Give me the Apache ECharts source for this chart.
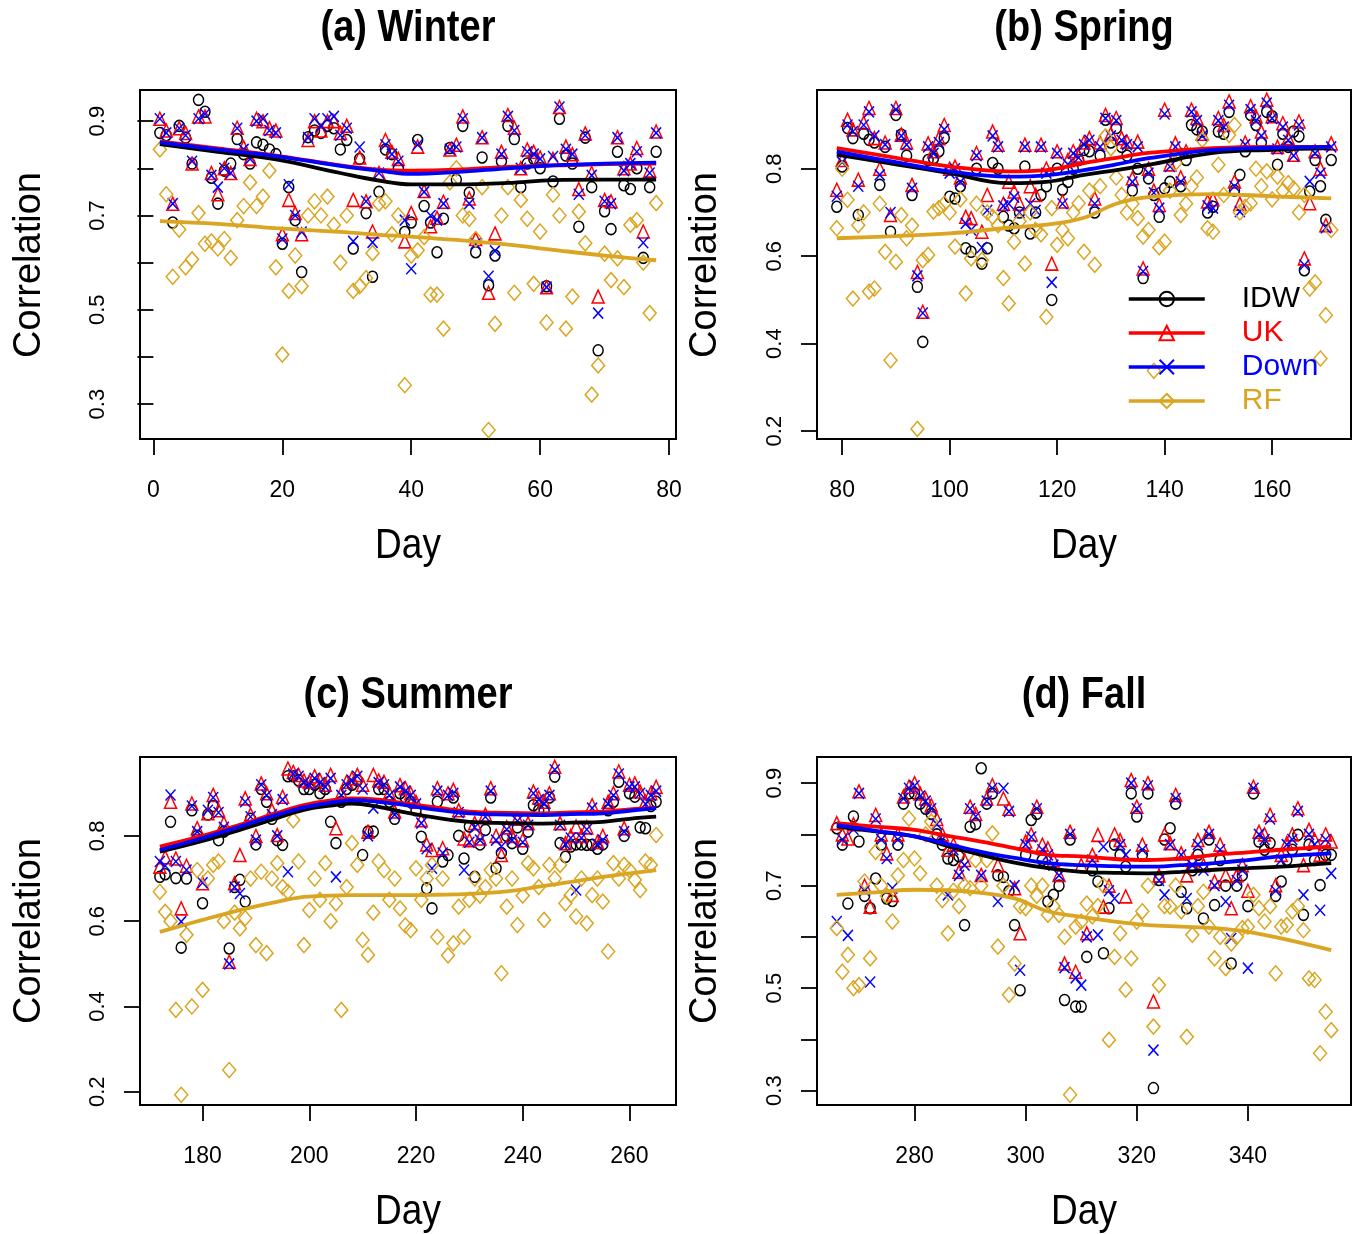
<!DOCTYPE html>
<html><head><meta charset="utf-8">
<script src="https://cdn.jsdelivr.net/npm/echarts@6/dist/echarts.min.js"></script>
<style>html,body{margin:0;padding:0;background:#fff}#c{width:1360px;height:1234px}</style>
</head><body><div id="c"></div>
<script>
// ---------------- DATA ----------------
const methods = ['IDW', 'UK', 'Down', 'RF'];
const panelTitles = ['(a) Winter', '(b) Spring', '(c) Summer', '(d) Fall'];
const startDays = [1, 79, 172, 266];
const xTickValues = [[0, 20, 40, 60, 80], [80, 100, 120, 140, 160], [180, 200, 220, 240, 260], [280, 300, 320, 340]];
const yTickValues = [[0.3, 0.4, 0.5, 0.6, 0.7, 0.8, 0.9], [0.2, 0.4, 0.6, 0.8], [0.2, 0.4, 0.6, 0.8], [0.3, 0.4, 0.5, 0.6, 0.7, 0.8, 0.9]];
const yLabelValues = [[0.3, 0.5, 0.7, 0.9], [0.2, 0.4, 0.6, 0.8], [0.2, 0.4, 0.6, 0.8], [0.3, 0.5, 0.7, 0.9]];

// Winter, days 1..78
const winterUK   = [.905,.88,.725,.885,.875,.81,.91,.91,.79,.745,.80,.79,.886,.845,.82,.905,.90,.885,.88,.66,.733,.705,.66,.86,.90,.88,.90,.90,.875,.89,.733,.823,.73,.666,.79,.86,.835,.82,.645,.705,.846,.752,.677,.695,.729,.84,.85,.91,.736,.65,.866,.536,.662,.835,.913,.886,.80,.84,.835,.823,.548,.82,.93,.846,.83,.756,.874,.79,.528,.733,.73,.866,.80,.81,.843,.666,.795,.878];
const winterDown = [.905,.875,.725,.885,.87,.815,.905,.915,.785,.76,.80,.79,.885,.84,.82,.90,.905,.88,.875,.65,.765,.70,.665,.865,.905,.89,.905,.91,.87,.885,.645,.845,.73,.643,.79,.85,.83,.815,.69,.587,.85,.75,.70,.69,.725,.84,.845,.905,.725,.64,.865,.571,.625,.83,.91,.88,.80,.835,.83,.82,.548,.825,.93,.84,.83,.745,.87,.785,.493,.73,.725,.865,.795,.81,.835,.642,.79,.875];
const winterIDW  = [.875,.87,.685,.89,.865,.81,.945,.92,.78,.725,.795,.81,.862,.83,.81,.855,.85,.84,.83,.64,.76,.69,.58,.866,.88,.875,.89,.885,.84,.86,.63,.82,.705,.57,.75,.84,.83,.80,.665,.685,.86,.72,.685,.622,.693,.843,.776,.89,.748,.622,.823,.552,.615,.815,.89,.862,.76,.81,.82,.80,.55,.772,.905,.827,.81,.676,.865,.76,.414,.709,.671,.835,.764,.756,.80,.61,.76,.835];
const winterRF   = [.84,.745,.57,.67,.59,.607,.705,.64,.645,.63,.65,.61,.69,.72,.77,.72,.74,.795,.59,.405,.54,.615,.55,.70,.73,.70,.74,.68,.60,.70,.54,.55,.567,.62,.725,.73,.66,.70,.34,.615,.626,.654,.532,.532,.46,.77,.80,.70,.693,.65,.76,.245,.47,.70,.76,.536,.733,.693,.555,.666,.473,.744,.70,.46,.528,.708,.641,.32,.382,.619,.563,.609,.548,.68,.69,.60,.493,.726];

// Spring, days 79..171
const springUK   = [.752,.82,.912,.89,.775,.905,.939,.87,.80,.86,.694,.939,.878,.86,.763,.564,.473,.858,.84,.87,.90,.80,.805,.78,.69,.687,.836,.656,.74,.885,.855,.72,.77,.748,.72,.855,.76,.74,.855,.80,.583,.84,.725,.82,.84,.83,.86,.87,.732,.86,.923,.88,.916,.87,.862,.778,.862,.572,.80,.75,.717,.935,.81,.858,.78,.84,.935,.916,.88,.725,.73,.916,.90,.954,.771,.72,.86,.943,.92,.885,.958,.92,.85,.904,.87,.832,.908,.595,.721,.84,.80,.671,.858];
const springDown = [.737,.815,.90,.885,.76,.90,.93,.875,.786,.855,.70,.935,.875,.855,.755,.555,.47,.85,.835,.86,.89,.79,.80,.77,.675,.66,.83,.62,.705,.875,.85,.715,.72,.735,.70,.85,.72,.705,.85,.79,.54,.835,.72,.81,.835,.825,.855,.865,.72,.85,.915,.875,.91,.865,.855,.77,.85,.565,.79,.745,.71,.925,.805,.85,.77,.835,.93,.91,.875,.715,.71,.91,.895,.945,.76,.702,.855,.935,.91,.875,.95,.915,.845,.895,.865,.83,.90,.58,.771,.835,.79,.665,.85];
const springIDW  = [.713,.805,.893,.87,.694,.88,.866,.86,.763,.85,.656,.923,.878,.83,.74,.53,.404,.82,.824,.84,.87,.736,.732,.76,.618,.61,.80,.583,.618,.813,.80,.69,.67,.664,.70,.805,.652,.70,.74,.76,.50,.80,.752,.77,.80,.82,.843,.84,.70,.83,.912,.86,.893,.85,.83,.75,.80,.55,.778,.74,.69,.755,.77,.83,.76,.82,.90,.89,.885,.70,.713,.885,.88,.93,.75,.786,.84,.923,.90,.86,.93,.92,.809,.88,.85,.885,.874,.568,.748,.82,.76,.683,.82];
const springRF   = [.664,.80,.729,.503,.671,.70,.519,.526,.72,.61,.362,.587,.694,.641,.67,.205,.591,.603,.702,.71,.72,.70,.622,.73,.515,.595,.72,.591,.70,.69,.671,.55,.492,.633,.68,.583,.70,.66,.65,.461,.71,.626,.66,.641,.70,.721,.61,.75,.58,.76,.874,.847,.78,.74,.70,.72,.687,.645,.66,.338,.62,.633,.75,.813,.694,.72,.76,.78,.866,.664,.656,.809,.74,.877,.90,.70,.713,.721,.80,.76,.794,.73,.782,.75,.767,.755,.70,.74,.526,.54,.366,.465,.66];

// Summer, days 172..265
const summerUK   = [.728,.75,.88,.747,.63,.73,.876,.818,.689,.853,.896,.86,.83,.505,.689,.755,.888,.85,.80,.923,.90,.86,.802,.892,.958,.95,.943,.93,.927,.94,.931,.92,.943,.818,.90,.927,.935,.943,.92,.81,.943,.93,.927,.90,.857,.919,.912,.90,.88,.837,.78,.767,.912,.771,.90,.908,.86,.794,.79,.83,.794,.85,.912,.80,.755,.82,.80,.84,.79,.83,.904,.89,.88,.90,.962,.83,.783,.80,.822,.80,.82,.872,.786,.80,.88,.90,.951,.818,.92,.923,.904,.88,.90,.915];
const summerDown = [.74,.73,.896,.74,.599,.72,.87,.81,.69,.86,.89,.855,.82,.50,.68,.665,.88,.845,.79,.92,.895,.85,.80,.885,.716,.945,.94,.925,.92,.935,.925,.915,.935,.704,.895,.92,.93,.94,.91,.80,.865,.925,.92,.895,.85,.915,.905,.895,.875,.83,.77,.724,.905,.76,.895,.90,.855,.72,.785,.82,.79,.845,.905,.79,.775,.815,.79,.835,.785,.825,.90,.885,.875,.895,.955,.825,.78,.795,.673,.795,.815,.865,.78,.79,.875,.895,.945,.81,.915,.915,.90,.875,.895,.905];
const summerIDW  = [.704,.71,.833,.701,.538,.70,.86,.80,.642,.85,.87,.79,.81,.536,.68,.697,.646,.84,.78,.91,.88,.84,.79,.779,.94,.94,.93,.91,.91,.92,.90,.91,.833,.783,.88,.91,.92,.93,.755,.81,.81,.91,.91,.88,.84,.90,.89,.88,.86,.798,.677,.63,.88,.74,.755,.89,.80,.747,.822,.704,.78,.814,.89,.724,.76,.80,.783,.82,.77,.81,.872,.86,.86,.89,.939,.783,.751,.775,.78,.78,.779,.779,.77,.78,.86,.88,.927,.80,.90,.892,.82,.818,.87,.88];
const summerRF   = [.669,.622,.60,.392,.193,.568,.40,.72,.439,.70,.732,.74,.60,.251,.62,.583,.607,.70,.544,.716,.525,.70,.736,.68,.669,.837,.74,.544,.626,.70,.65,.736,.60,.642,.392,.68,.783,.732,.556,.521,.62,.74,.72,.65,.70,.63,.59,.579,.724,.65,.70,.732,.563,.70,.52,.548,.634,.563,.65,.70,.66,.68,.72,.70,.478,.634,.70,.591,.66,.736,.724,.68,.603,.732,.70,.732,.642,.661,.611,.70,.595,.661,.70,.646,.529,.736,.70,.732,.72,.697,.673,.74,.732,.802];

// Fall, days 266..355
const fallUK   = [.822,.80,.792,.82,.884,.70,.659,.838,.80,.763,.682,.80,.874,.893,.90,.88,.87,.857,.83,.80,.77,.78,.727,.75,.854,.84,.721,.87,.896,.74,.87,.85,.695,.607,.786,.80,.854,.78,.773,.75,.721,.548,.805,.532,.74,.607,.76,.799,.659,.70,.80,.789,.679,.906,.854,.78,.90,.474,.72,.80,.783,.877,.763,.72,.75,.789,.74,.805,.708,.78,.72,.656,.72,.74,.69,.893,.805,.80,.838,.701,.76,.783,.80,.851,.74,.809,.79,.76,.80,.786];
const fallDown = [.63,.79,.603,.81,.88,.69,.512,.83,.79,.753,.695,.79,.87,.89,.895,.875,.865,.85,.82,.79,.682,.77,.72,.74,.85,.835,.72,.865,.89,.669,.89,.845,.70,.535,.78,.795,.85,.77,.76,.74,.72,.54,.80,.52,.506,.60,.75,.604,.776,.69,.675,.78,.76,.90,.85,.77,.895,.379,.71,.682,.78,.87,.76,.675,.74,.78,.73,.80,.70,.77,.669,.597,.71,.73,.539,.89,.80,.79,.83,.69,.75,.78,.79,.845,.682,.80,.78,.652,.79,.724];
const fallIDW  = [.812,.78,.665,.835,.786,.68,.656,.714,.78,.675,.67,.78,.86,.88,.88,.86,.85,.84,.80,.78,.753,.75,.757,.623,.815,.82,.929,.86,.88,.72,.717,.689,.623,.496,.76,.828,.84,.75,.669,.682,.70,.477,.79,.464,.464,.561,.73,.708,.568,.656,.78,.76,.737,.88,.835,.76,.88,.305,.711,.79,.812,.86,.688,.656,.73,.76,.636,.79,.662,.75,.70,.548,.70,.72,.66,.88,.786,.77,.783,.68,.708,.75,.77,.799,.643,.78,.75,.701,.76,.76];
const fallRF   = [.617,.532,.565,.50,.506,.708,.558,.766,.70,.68,.63,.72,.75,.831,.753,.724,.80,.825,.70,.672,.607,.69,.66,.70,.695,.75,.70,.75,.802,.581,.70,.487,.548,.66,.656,.70,.68,.70,.643,.66,.643,.60,.292,.62,.63,.665,.64,.66,.70,.399,.561,.607,.497,.558,.63,.65,.70,.425,.506,.66,.659,.70,.65,.405,.604,.66,.688,.62,.558,.60,.539,.587,.60,.617,.62,.682,.656,.63,.66,.529,.62,.623,.65,.66,.613,.519,.516,.373,.454,.418];

// Smooth (lowess) curves
const winterLineDays = [1, 10, 19, 29, 35, 40, 47, 55, 62, 70, 78];
const winterLineUK   = [.857,.842,.827,.806,.797,.795,.797,.803,.806,.809,.81];
const winterLineDown = [.855,.84,.826,.805,.795,.788,.792,.80,.806,.81,.812];
const winterLineIDW  = [.851,.835,.819,.79,.774,.766,.766,.769,.775,.776,.776];
const winterLineRF   = [.688,.682,.673,.665,.659,.655,.648,.638,.627,.615,.605];

const springLineDays = [79, 90, 100, 111, 118, 125, 131, 137, 149, 160, 171];
const springLineUK   = [.847,.825,.805,.794,.797,.813,.825,.836,.847,.85,.85];
const springLineDown = [.839,.815,.794,.782,.785,.797,.81,.824,.843,.848,.85];
const springLineIDW  = [.832,.81,.79,.767,.77,.786,.797,.809,.836,.843,.847];
const springLineRF   = [.641,.646,.652,.665,.672,.688,.72,.735,.742,.737,.732];

const summerLineDays = [172, 180, 187, 193, 199, 204, 208, 213, 218, 224, 230, 237, 243, 249, 255, 260, 265];
const summerLineUK   = [.775,.80,.826,.85,.872,.883,.888,.885,.876,.866,.857,.854,.853,.855,.857,.862,.866];
const summerLineDown = [.767,.795,.822,.846,.867,.878,.884,.88,.872,.861,.853,.85,.849,.851,.853,.859,.865];
const summerLineIDW  = [.763,.788,.814,.838,.861,.871,.876,.868,.855,.842,.833,.83,.829,.831,.833,.84,.845];
const summerLineRF   = [.575,.603,.626,.643,.657,.66,.661,.661,.661,.662,.664,.67,.681,.692,.704,.712,.72];

const fallLineDays = [266, 273, 280, 286, 292, 298, 304, 310, 316, 322, 328, 334, 340, 346, 355];
const fallLineUK   = [.822,.815,.809,.797,.786,.773,.76,.757,.752,.75,.753,.76,.765,.77,.776];
const fallLineDown = [.818,.807,.796,.781,.766,.754,.744,.74,.738,.737,.74,.744,.75,.757,.763];
const fallLineIDW  = [.815,.806,.796,.777,.76,.745,.734,.727,.725,.724,.727,.731,.734,.737,.744];
const fallLineRF   = [.682,.687,.692,.691,.686,.675,.65,.639,.63,.623,.62,.617,.61,.597,.574];

// ---------------- LAYOUT / STYLE ----------------
const FONT = '"Liberation Sans", Arial, Helvetica, sans-serif';
const colors = { IDW: '#000000', UK: '#FF0000', Down: '#0000FF', RF: '#DAA520' };
const symbols = { IDW: 'circle', UK: 'triangle', Down: 'path://M0,0L10,10M10,0L0,10', RF: 'diamond' };
const symbolSizes = { IDW: [10, 11], UK: [12, 13], Down: [10, 11], RF: [13, 15] };

const grids = [
  { left: 140, top: 90, width: 536, height: 349 },
  { left: 817, top: 90, width: 534, height: 349 },
  { left: 140, top: 757, width: 536, height: 348 },
  { left: 817, top: 757, width: 534, height: 348 }
];
const xRanges = [[-2.08, 81.08], [75.32, 174.68], [168.28, 268.72], [262.44, 358.56]];
const yRanges = [[0.226, 0.966], [0.182, 0.98], [0.169, 0.985], [0.272, 0.951]];

const points = [
  { IDW: winterIDW, UK: winterUK, Down: winterDown, RF: winterRF },
  { IDW: springIDW, UK: springUK, Down: springDown, RF: springRF },
  { IDW: summerIDW, UK: summerUK, Down: summerDown, RF: summerRF },
  { IDW: fallIDW, UK: fallUK, Down: fallDown, RF: fallRF }
];
const lineDays = [winterLineDays, springLineDays, summerLineDays, fallLineDays];
const lines = [
  { IDW: winterLineIDW, UK: winterLineUK, Down: winterLineDown, RF: winterLineRF },
  { IDW: springLineIDW, UK: springLineUK, Down: springLineDown, RF: springLineRF },
  { IDW: summerLineIDW, UK: summerLineUK, Down: summerLineDown, RF: summerLineRF },
  { IDW: fallLineIDW, UK: fallLineUK, Down: fallLineDown, RF: fallLineRF }
];

const xAxes = [], yAxes = [], series = [];
grids.forEach((g, p) => {
  xAxes.push({
    type: 'value', gridIndex: p, min: xRanges[p][0], max: xRanges[p][1],
    axisLine: { show: false }, splitLine: { show: false },
    axisTick: { show: true, customValues: xTickValues[p], length: 16, lineStyle: { color: '#000', width: 1.8 } },
    axisLabel: { show: true, customValues: xTickValues[p], margin: 40, fontSize: 23, color: '#000', fontFamily: FONT }
  });
  yAxes.push({
    type: 'value', gridIndex: p, min: yRanges[p][0], max: yRanges[p][1],
    axisLine: { show: false }, splitLine: { show: false },
    axisTick: { show: true, customValues: yTickValues[p], length: 16, lineStyle: { color: '#000', width: 1.8 } },
    axisLabel: { show: true, customValues: yLabelValues[p], rotate: 90, margin: 31, fontSize: 22, color: '#000', fontFamily: FONT }
  });
  methods.forEach(m => {
    series.push({
      type: 'scatter', name: m + ' points', xAxisIndex: p, yAxisIndex: p,
      symbol: symbols[m], symbolSize: symbolSizes[m], z: 2, silent: true,
      itemStyle: { color: 'rgba(0,0,0,0)', borderColor: colors[m], borderWidth: 1.5, opacity: 1 },
      data: points[p][m].map((v, i) => [startDays[p] + i, v])
    });
  });
  methods.forEach(m => {
    series.push({
      type: 'line', name: m, xAxisIndex: p, yAxisIndex: p, smooth: 0.4, showSymbol: false,
      symbol: symbols[m], z: 3, silent: true,
      lineStyle: { color: colors[m], width: 3.8 },
      itemStyle: { color: 'rgba(0,0,0,0)', borderColor: colors[m], borderWidth: 2 },
      data: lineDays[p].map((d, i) => [d, lines[p][m][i]])
    });
  });
});

const graphic = [];
const cx = [408, 1084, 408, 1084];
const titleY = [29, 29, 696, 696];
const dayY = [546, 546, 1212, 1212];
const corrX = [30, 706, 30, 706];
const corrY = [265, 265, 931, 931];
panelTitles.forEach((t, p) => {
  graphic.push({ type: 'text', x: cx[p], y: titleY[p], scaleY: 1.17,
    style: { text: t, font: 'bold 38px ' + FONT, fill: '#000', align: 'center', verticalAlign: 'middle', textAlign: 'center', textVerticalAlign: 'middle' } });
  graphic.push({ type: 'text', x: cx[p], y: dayY[p], scaleY: 1.15,
    style: { text: 'Day', font: '37px ' + FONT, fill: '#000', align: 'center', verticalAlign: 'middle', textAlign: 'center', textVerticalAlign: 'middle' } });
  graphic.push({ type: 'text', x: corrX[p], y: corrY[p], rotation: Math.PI / 2,
    style: { text: 'Correlation', font: '38px ' + FONT, fill: '#000', align: 'center', verticalAlign: 'middle', textAlign: 'center', textVerticalAlign: 'middle' } });
});

const option = {
  animation: false,
  backgroundColor: '#ffffff',
  grid: grids.map(g => Object.assign({ show: true, borderColor: '#000', borderWidth: 2, backgroundColor: 'transparent', containLabel: false }, g)),
  xAxis: xAxes,
  yAxis: yAxes,
  legend: {
    show: true, orient: 'vertical', left: 1122, top: 279, itemWidth: 76, itemHeight: 18, itemGap: 4,
    selectedMode: false,
    textStyle: { fontSize: 30, fontFamily: FONT, padding: [0, 0, 0, 32] },
    data: methods.map(m => ({
      name: m, textStyle: { color: colors[m], fontSize: 30, fontFamily: FONT, padding: [0, 0, 0, 32] },
      itemStyle: { color: 'rgba(0,0,0,0)', borderColor: colors[m], borderWidth: 2 },
      lineStyle: { color: colors[m], width: 3.5 }
    }))
  },
  graphic: graphic,
  series: series
};

const chart = echarts.init(document.getElementById('c'), null, { renderer: 'canvas' });
chart.setOption(option);
</script>
</body></html>
